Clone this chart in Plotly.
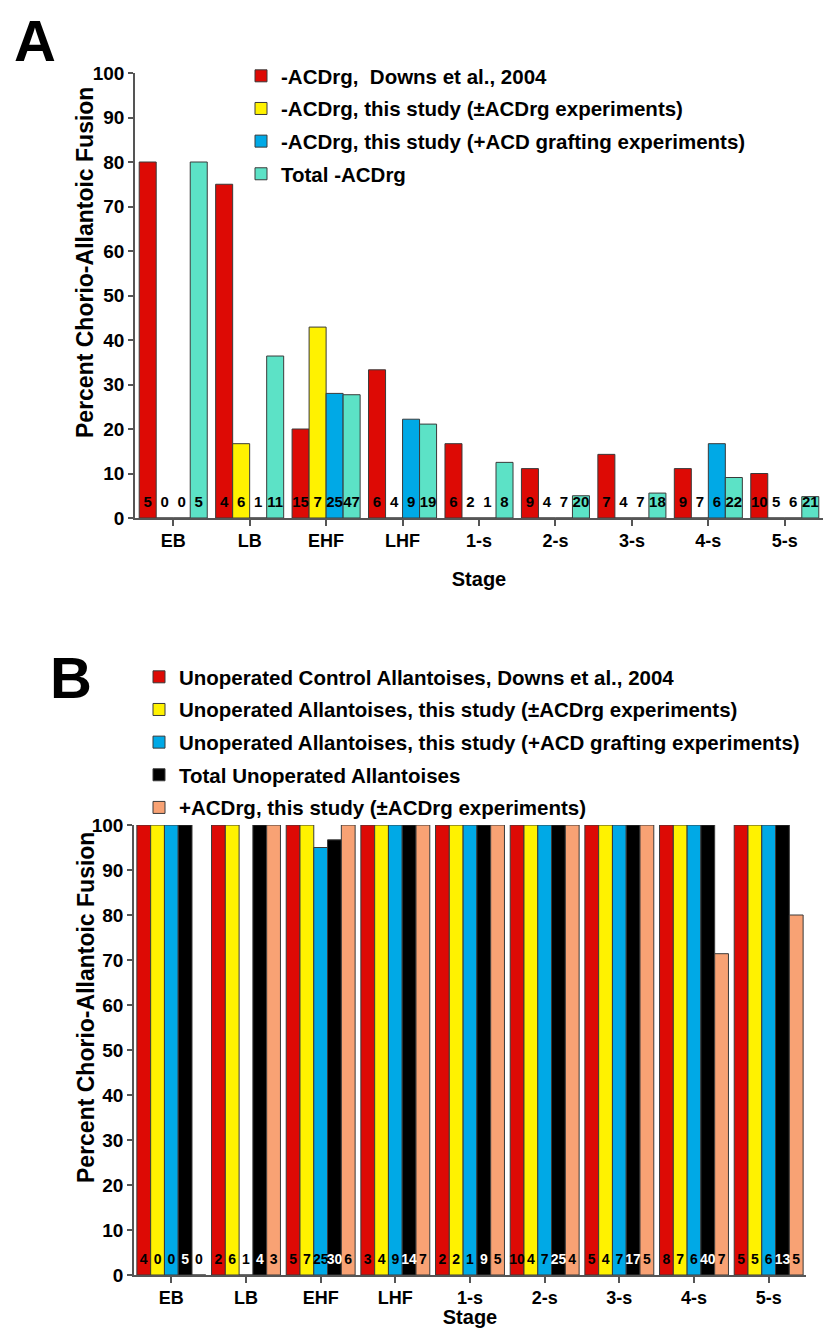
import plotly.graph_objects as go

stages = ["EB", "LB", "EHF", "LHF", "1-s", "2-s", "3-s", "4-s", "5-s"]

# Panel A: percent chorio-allantoic fusion, -ACDrg
a_names = ["-ACDrg,  Downs et al., 2004",
           "-ACDrg, this study (\u00b1ACDrg experiments)",
           "-ACDrg, this study (+ACD grafting experiments)",
           "Total -ACDrg"]
a_downs = [80, 75, 20, 33.3, 16.7, 11.1, 14.3, 11.1, 10]
a_pm = [0, 16.7, 42.9, 0, 0, 0, 0, 0, 0]
a_graft = [0, 0, 28, 22.2, 0, 0, 0, 16.7, 0]
a_total = [80, 36.4, 27.7, 21.1, 12.5, 5, 5.6, 9.1, 4.8]
a_n_downs = [5, 4, 15, 6, 6, 9, 7, 9, 10]
a_n_pm = [0, 6, 7, 4, 2, 4, 4, 7, 5]
a_n_graft = [0, 1, 25, 9, 1, 7, 7, 6, 6]
a_n_total = [5, 11, 47, 19, 8, 20, 18, 22, 21]

# Panel B: unoperated allantoises and +ACDrg
b_names = ["Unoperated Control Allantoises, Downs et al., 2004",
           "Unoperated Allantoises, this study (\u00b1ACDrg experiments)",
           "Unoperated Allantoises, this study (+ACD grafting experiments)",
           "Total Unoperated Allantoises",
           "+ACDrg, this study (\u00b1ACDrg experiments)"]
b_downs = [100, 100, 100, 100, 100, 100, 100, 100, 100]
b_pm = [100, 100, 100, 100, 100, 100, 100, 100, 100]
b_graft = [100, 0, 95, 100, 100, 100, 100, 100, 100]
b_total = [100, 100, 96.7, 100, 100, 100, 100, 100, 100]
b_acd = [0, 100, 100, 100, 100, 100, 100, 71.4, 80]
b_n_downs = [4, 2, 5, 3, 2, 10, 5, 8, 5]
b_n_pm = [0, 6, 7, 4, 2, 4, 4, 7, 5]
b_n_graft = [0, 1, 25, 9, 1, 7, 7, 6, 6]
b_n_total = [5, 4, 30, 14, 9, 25, 17, 40, 13]
b_n_acd = [0, 3, 6, 7, 5, 4, 5, 7, 5]

RED, YEL, BLU, TEAL, BLK, ORG = "#dd0a05", "#fff200", "#00a9e6", "#5ce2c6", "#000000", "#f8a274"

W, H = 825, 1328
def px(x):
    return x / W
def py(y):
    return 1 - y / H

FONT = "Liberation Sans, Arial, sans-serif"

fig = go.Figure()
idx = list(range(len(stages)))


def add_panel(names, values, counts, colors, txtcolors, group_w, xa, ya, legend, tsize):
    n = len(values)
    w = group_w / n
    for j in range(n):
        off = -group_w / 2 + j * w
        fig.add_trace(go.Bar(
            x=idx, y=values[j], offset=off, width=w, name=names[j],
            marker=dict(color=colors[j], line=dict(color="#3a3a3a", width=1)),
            xaxis=xa, yaxis=ya, legend=legend, legendgroup=legend + str(j),
            hoverinfo="skip"))
    for j in range(n):
        off = -group_w / 2 + j * w
        fig.add_trace(go.Scatter(
            x=[i + off + w / 2 for i in idx], y=[3.3] * len(idx),
            mode="text", text=[str(c) for c in counts[j]],
            textfont=dict(family=FONT, size=tsize, color=txtcolors[j], weight="bold"),
            xaxis=xa, yaxis=ya, showlegend=False, hoverinfo="skip", cliponaxis=False))


add_panel(a_names, [a_downs, a_pm, a_graft, a_total],
          [a_n_downs, a_n_pm, a_n_graft, a_n_total],
          [RED, YEL, BLU, TEAL], ["#000"] * 4, 0.89, "x", "y", "legend", 15)
add_panel(b_names, [b_downs, b_pm, b_graft, b_total, b_acd],
          [b_n_downs, b_n_pm, b_n_graft, b_n_total, b_n_acd],
          [RED, YEL, BLU, BLK, ORG], ["#000", "#000", "#000", "#fff", "#000"],
          0.923, "x2", "y2", "legend2", 14)

axcol = "#555555"
def xaxis_def(standoff):
    return dict(range=[-0.5, 8.5], tickmode="array", tickvals=idx, ticktext=stages,
                showline=True, linecolor=axcol, linewidth=1.5, ticks="outside",
                ticklen=6, tickwidth=1.5, tickcolor=axcol, showgrid=False, zeroline=False,
                automargin=False,
                tickfont=dict(family=FONT, size=18, color="#000", weight="bold"),
                title=dict(text="Stage",
                           font=dict(family=FONT, size=20, color="#000", weight="bold"),
                           standoff=standoff))
ycommon = dict(range=[0, 100], tickmode="array", tickvals=list(range(0, 101, 10)),
               showline=True, linecolor=axcol, linewidth=1.5, ticks="outside",
               ticklen=5, tickwidth=1.5, tickcolor=axcol, showgrid=False, zeroline=False,
               automargin=False,
               tickfont=dict(family=FONT, size=19, color="#000", weight="bold"))

ytitle = "Percent Chorio-Allantoic Fusion"
lfont = dict(family=FONT, size=20.5, color="#000", weight="bold")
LD = 19  # legend top to first row centre

fig.update_layout(
    width=W, height=H, margin=dict(l=0, r=0, t=0, b=0, autoexpand=False),
    paper_bgcolor="white", plot_bgcolor="white", barmode="overlay",
    xaxis=dict(domain=[px(135), px(823)], anchor="y", **xaxis_def(22)),
    yaxis=dict(domain=[py(518), py(73)], anchor="x", **ycommon),
    xaxis2=dict(domain=[px(134), px(806)], anchor="y2", **xaxis_def(8)),
    yaxis2=dict(domain=[py(1275), py(825)], anchor="x2", **ycommon),
    legend=dict(x=px(241), y=py(75 - LD), xanchor="left", yanchor="top",
                bgcolor="rgba(0,0,0,0)", traceorder="grouped", tracegroupgap=3,
                font=lfont),
    legend2=dict(x=px(139), y=py(676 - LD), xanchor="left", yanchor="top",
                 bgcolor="rgba(0,0,0,0)", traceorder="grouped", tracegroupgap=3,
                 font=lfont),
    annotations=[
        dict(text="<b>A</b>", x=px(35), y=py(40), xref="paper", yref="paper",
             xanchor="center", yanchor="middle", showarrow=False,
             font=dict(family=FONT, size=58, color="#000")),
        dict(text="<b>B</b>", x=px(71), y=py(677), xref="paper", yref="paper",
             xanchor="center", yanchor="middle", showarrow=False,
             font=dict(family=FONT, size=58, color="#000")),
        dict(text=ytitle, x=px(85), y=py(263), xref="paper", yref="paper",
             xanchor="center", yanchor="middle", showarrow=False, textangle=-90,
             font=dict(family=FONT, size=23, color="#000", weight="bold")),
        dict(text=ytitle, x=px(86), y=py(1008), xref="paper", yref="paper",
             xanchor="center", yanchor="middle", showarrow=False, textangle=-90,
             font=dict(family=FONT, size=23, color="#000", weight="bold")),
    ],
)

fig.write_html("out.html", config={"displayModeBar": False},
               post_script="document.body.style.margin='0';document.body.style.overflow='hidden';")
